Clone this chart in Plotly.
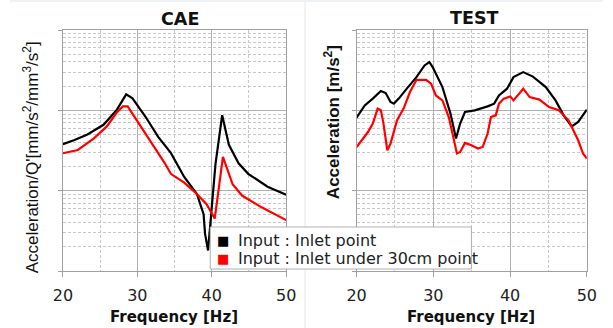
import plotly.graph_objects as go

# ---- data ----
cae_black_f = [20, 21.56, 23.3, 25.45, 27.2, 28.5, 29.35, 31.1, 32.8, 34.5, 36.3, 38.0, 38.9, 39.1, 39.5,
               39.9, 40.5, 41.4, 42.3, 43.6, 44.9, 47.5, 50]
cae_black_v = [38.0, 42.7, 50.1, 66.1, 100, 158, 141, 83.2, 46.8, 29.5, 14.8, 9.1, 5.1, 2.9, 1.8,
               5.1, 21.4, 87.1, 37.2, 21.9, 16.2, 11.2, 8.9]

cae_red_f = [20, 22, 24.16, 25.9, 27.2, 28.05, 28.7, 30.2, 31.95, 33.7, 34.5, 36.3, 38.0, 39.3, 40.4,
             41.5, 42.8, 44.07, 46.7, 50]
cae_red_v = [29.2, 32.1, 44.7, 63.1, 93.3, 112, 112, 69.2, 38.9, 21.9, 16.2, 12.6, 9.1, 6.8, 4.5,
             26.3, 12.0, 8.7, 6.2, 4.3]

test_black_f = [20, 21.06, 22.11, 23.16, 23.79, 24.42, 24.85, 25.49, 26.54, 27.8, 28.85, 29.48, 29.91,
                31.18, 32.23, 32.95, 33.49, 34.12, 35.39, 36.23, 37.07, 37.92, 38.55, 39.6, 40.44,
                41.71, 42.97, 44.65, 45.92, 46.98, 48.03, 48.87, 50]
test_black_v = [81.1, 115, 140, 174, 164, 127, 121, 140, 186, 259, 362, 398, 345,
                195, 91, 44.5, 68.4, 95.3, 100, 105, 112, 121, 153, 186, 259,
                299, 263, 195, 133, 86.7, 63.1, 71.6, 102]

test_red_f = [20, 20.63, 21.48, 22.11, 22.74, 23.16, 23.5, 24.0, 24.42, 25.27, 26.12, 26.95, 27.8,
              29.06, 29.7, 30.33, 31.18, 32.01, 32.64, 33.07, 33.49, 34.12, 34.97, 35.8, 36.43,
              37.07, 37.5, 38.13, 38.55, 39.18, 40.03, 40.44, 41.71, 42.55, 43.82, 45.08, 46.35,
              47.61, 48.87, 49.5, 50]
test_red_v = [35.0, 42.4, 53.7, 68.4, 105, 100, 68.4, 31.8, 38.5, 75.2, 105, 169, 240,
              240, 215, 153, 133, 82.6, 46.6, 29.0, 30.3, 39.3, 36.7, 33.4, 35.0,
              51.4, 82.6, 86.7, 121, 140, 149, 133, 186, 146, 136, 110, 100,
              75.2, 42.4, 29.0, 25.1]

x_ticks = [20, 30, 40, 50]
series_names = ["Input : Inlet point", "Input : Inlet under 30cm point"]
series_colors = ["#000000", "#ff0000"]

fig = go.Figure()

lw = 2.2
fig.add_trace(go.Scatter(x=cae_black_f, y=cae_black_v, mode="lines", line=dict(color=series_colors[0], width=lw),
                         xaxis="x", yaxis="y", showlegend=False))
fig.add_trace(go.Scatter(x=cae_red_f, y=cae_red_v, mode="lines", line=dict(color=series_colors[1], width=lw),
                         xaxis="x", yaxis="y", showlegend=False))
fig.add_trace(go.Scatter(x=test_black_f, y=test_black_v, mode="lines", line=dict(color=series_colors[0], width=lw),
                         xaxis="x2", yaxis="y2", showlegend=False))
fig.add_trace(go.Scatter(x=test_red_f, y=test_red_v, mode="lines", line=dict(color=series_colors[1], width=lw),
                         xaxis="x2", yaxis="y2", showlegend=False))

W, H = 613, 328
ydom = [1 - 271 / H, 1 - 30 / H]
grid_major = "#b0b0b0"
grid_minor = "#c8c8c8"
tickfont = dict(family="DejaVu Sans", size=16, color="#222222")


def xaxis(dom, anchor):
    return dict(domain=dom, anchor=anchor, range=[20, 50], tickvals=x_ticks, showgrid=True,
                gridcolor=grid_major, gridwidth=1.2, showline=True, linecolor="#a0a0a0", linewidth=1.2,
                mirror=True, ticks="outside", ticklen=5, tickcolor="#a0a0a0", tickfont=tickfont,
                ticklabelstandoff=5, zeroline=False,
                minor=dict(dtick=5, showgrid=True, gridcolor=grid_minor, griddash="3px,2px", gridwidth=1))


def yaxis(anchor):
    return dict(domain=ydom, anchor=anchor, type="log", range=[0, 3], dtick=1, showticklabels=False,
                showgrid=True, gridcolor=grid_major, gridwidth=1.2, showline=True, linecolor="#a0a0a0",
                linewidth=1.2, mirror=True, ticks="outside", ticklen=4, tickcolor="#a0a0a0", zeroline=False,
                minor=dict(dtick="D1", showgrid=True, gridcolor=grid_minor, griddash="3px,2px", gridwidth=1))


fig.update_layout(
    width=W, height=H, margin=dict(l=0, r=0, t=0, b=0),
    paper_bgcolor="white", plot_bgcolor="white",
    xaxis=xaxis([54.7 / W, 285.5 / W], "y"),
    yaxis=yaxis("x"),
    xaxis2=xaxis([358.3 / W, 596.3 / W], "y2"),
    yaxis2=yaxis("x2"),
    showlegend=False,
)

ann = [
    dict(text="<b>CAE</b>", x=175.5 / W, y=1 - 19 / H, font=dict(family="DejaVu Sans", size=17.5, color="#111")),
    dict(text="<b>TEST</b>", x=480 / W, y=1 - 18 / H, font=dict(family="DejaVu Sans", size=17.5, color="#111")),
    dict(text="<b>Frequency [Hz]</b>", x=170 / W, y=1 - 317 / H, font=dict(family="DejaVu Sans", size=15, color="#111")),
    dict(text="<b>Frequency [Hz]</b>", x=477 / W, y=1 - 317 / H, font=dict(family="DejaVu Sans", size=15, color="#111")),
    dict(text="Acceleration/Q'[mm/s<sup>2</sup>/mm<sup>3</sup>/s<sup>2</sup>]", x=22 / W, y=1 - 157 / H, textangle=-90,
         font=dict(family="Liberation Sans", size=17, color="#111")),
    dict(text="<b>Acceleration [m/s<sup>2</sup>]</b>", x=333 / W, y=1 - 122 / H, textangle=-90,
         font=dict(family="Liberation Sans", size=17, color="#111")),
]
for a in ann:
    a.update(xref="paper", yref="paper", showarrow=False, xanchor="center", yanchor="middle")
    fig.add_annotation(**a)

# legend (drawn manually to match the reference layout)
fig.add_shape(type="rect", xref="paper", yref="paper", x0=207 / W, x1=477 / W, y0=1 - 269 / H, y1=1 - 227 / H,
              line=dict(color="#b0b0b0", width=1), fillcolor="white", layer="above")
for i, (name, col) in enumerate(zip(series_names, series_colors)):
    yy = 1 - (240 + 18 * i) / H
    fig.add_annotation(text="■", x=220 / W, y=yy, xref="paper", yref="paper", showarrow=False,
                       xanchor="center", yanchor="middle", font=dict(family="DejaVu Sans", size=13, color=col))
    fig.add_annotation(text=name, x=234 / W, y=yy, xref="paper", yref="paper", showarrow=False,
                       xanchor="left", yanchor="middle", font=dict(family="DejaVu Sans", size=16, color="#222222"))

fig.add_shape(type="line", xref="paper", yref="paper", x0=305 / W, x1=305 / W, y0=0, y1=1,
              line=dict(color="#e6e6e6", width=1), layer="below")
fig.add_shape(type="line", xref="paper", yref="paper", x0=0, x1=1, y0=1 - 1 / H, y1=1 - 1 / H,
              line=dict(color="#eef2f8", width=2), layer="below")

fig.write_html("out.html")
